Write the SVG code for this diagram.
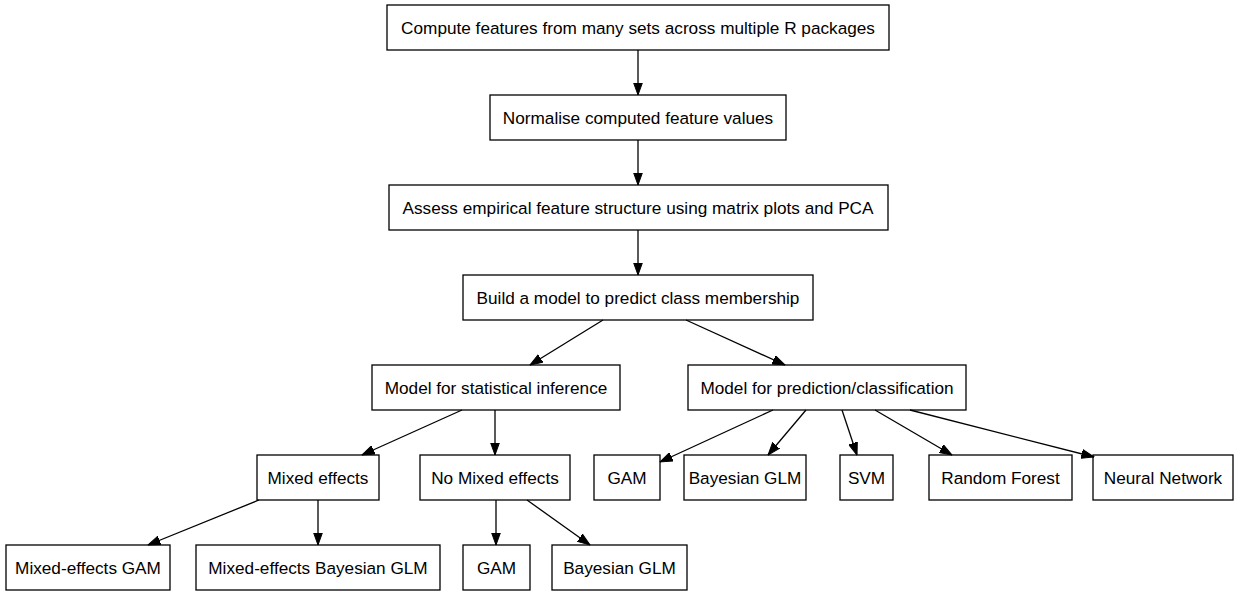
<svg xmlns="http://www.w3.org/2000/svg" width="1239" height="595" viewBox="0 0 1239 595">
<style>
.n rect{fill:#fff;stroke:#000;stroke-width:1.3}
.n text{font-family:"Liberation Sans",Arial,Helvetica,sans-serif;font-size:17.2px;text-anchor:middle;fill:#000}
.e line{stroke:#000;stroke-width:1.3;marker-end:url(#ah)}
</style>
<defs>
<marker id="ah" markerUnits="userSpaceOnUse" markerWidth="13" markerHeight="10" refX="12.5" refY="4.5" orient="auto" viewBox="0 0 13 9">
<path d="M0,0 L12.5,4.5 L0,9 z" fill="#000" stroke="#000" stroke-width="1"/>
</marker>
</defs>
<rect width="1239" height="595" fill="#fff"/>
<g id="n1" class="n"><rect x="387" y="5" width="502" height="45"/><text x="638" y="33.5">Compute features from many sets across multiple R packages</text></g>
<g id="n2" class="n"><rect x="490" y="95" width="296" height="45"/><text x="638" y="123.5">Normalise computed feature values</text></g>
<g id="n3" class="n"><rect x="389" y="185" width="499" height="45"/><text x="638" y="213.5">Assess empirical feature structure using matrix plots and PCA</text></g>
<g id="n4" class="n"><rect x="463" y="275" width="350" height="45"/><text x="638" y="303.5">Build a model to predict class membership</text></g>
<g id="n5" class="n"><rect x="372" y="365" width="248" height="45"/><text x="496" y="393.5">Model for statistical inference</text></g>
<g id="n6" class="n"><rect x="688" y="365" width="278" height="45"/><text x="827" y="393.5">Model for prediction/classification</text></g>
<g id="n7" class="n"><rect x="257" y="455" width="122" height="45"/><text x="318" y="483.5">Mixed effects</text></g>
<g id="n8" class="n"><rect x="420" y="455" width="150" height="45"/><text x="495" y="483.5">No Mixed effects</text></g>
<g id="n9" class="n"><rect x="594" y="455" width="66" height="45"/><text x="627" y="483.5">GAM</text></g>
<g id="n10" class="n"><rect x="684" y="455" width="122" height="45"/><text x="745" y="483.5">Bayesian GLM</text></g>
<g id="n11" class="n"><rect x="840" y="455" width="53" height="45"/><text x="866.5" y="483.5">SVM</text></g>
<g id="n12" class="n"><rect x="929" y="455" width="143" height="45"/><text x="1000.5" y="483.5">Random Forest</text></g>
<g id="n13" class="n"><rect x="1093" y="455" width="140" height="45"/><text x="1163" y="483.5">Neural Network</text></g>
<g id="n14" class="n"><rect x="6" y="545" width="164" height="45"/><text x="88" y="573.5">Mixed-effects GAM</text></g>
<g id="n15" class="n"><rect x="196" y="545" width="244" height="45"/><text x="318" y="573.5">Mixed-effects Bayesian GLM</text></g>
<g id="n16" class="n"><rect x="463" y="545" width="67" height="45"/><text x="496.5" y="573.5">GAM</text></g>
<g id="n17" class="n"><rect x="552" y="545" width="135" height="45"/><text x="619.5" y="573.5">Bayesian GLM</text></g>
<g id="edges" class="e">
<line x1="638" y1="50" x2="638" y2="95"/>
<line x1="638" y1="140" x2="638" y2="185"/>
<line x1="638" y1="230" x2="638" y2="275"/>
<line x1="603" y1="320" x2="530" y2="365"/>
<line x1="686" y1="320" x2="785" y2="365"/>
<line x1="462" y1="410" x2="362" y2="455"/>
<line x1="495" y1="410" x2="495" y2="455"/>
<line x1="259" y1="500" x2="148" y2="545"/>
<line x1="318" y1="500" x2="318" y2="545"/>
<line x1="496" y1="500" x2="496" y2="545"/>
<line x1="527" y1="500" x2="590" y2="545"/>
<line x1="773" y1="410" x2="660" y2="462"/>
<line x1="806" y1="410" x2="768" y2="455"/>
<line x1="842" y1="410" x2="857" y2="455"/>
<line x1="875" y1="410" x2="952" y2="455"/>
<line x1="910" y1="410" x2="1094" y2="457"/>
</g>
</svg>
